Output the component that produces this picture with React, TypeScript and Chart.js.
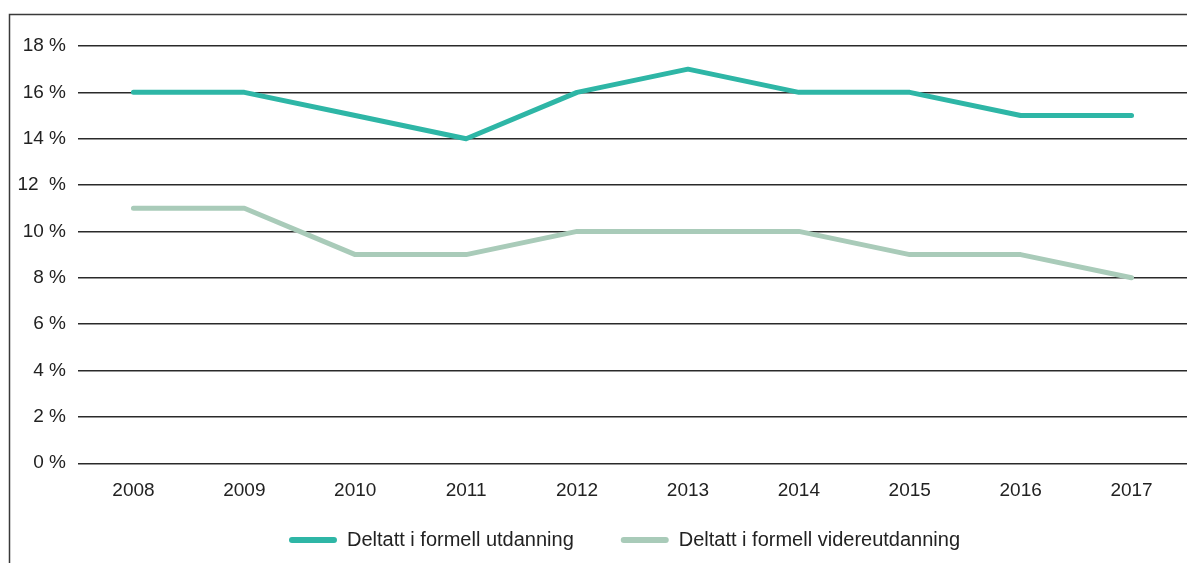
import React, { useEffect, useRef } from "react";
import { Chart, registerables } from "chart.js";

Chart.register(...registerables);

const years = ["2008", "2009", "2010", "2011", "2012", "2013", "2014", "2015", "2016", "2017"];
const formellUtdanning = [16, 16, 15, 14, 16, 17, 16, 16, 15, 15];
const formellVidereutdanning = [11, 11, 9, 9, 10, 10, 10, 9, 9, 8];
const seriesNames = ["Deltatt i formell utdanning", "Deltatt i formell videreutdanning"];
const seriesColors = ["#2eb6a6", "#a9cbb9"];
const yTickLabels: Record<number, string> = {
  0: "0 %", 2: "2 %", 4: "4 %", 6: "6 %", 8: "8 %", 10: "10 %",
  12: "12  %", 14: "14 %", 16: "16 %", 18: "18 %",
};

const framePlugin = {
  id: "frame",
  beforeDraw(chart: any) {
    const ctx = chart.ctx;
    ctx.save();
    ctx.strokeStyle = "#3a3a3a";
    ctx.lineWidth = 1.5;
    ctx.beginPath();
    ctx.moveTo(9.5, chart.height + 5);
    ctx.lineTo(9.5, 14.5);
    ctx.lineTo(chart.width + 5, 14.5);
    ctx.stroke();
    ctx.restore();
  },
};

const LEGEND_PAD = 47;
const legendShiftPlugin = {
  id: "legendShift",
  afterLayout(chart: any) {
    const lg = chart.legend;
    if (lg) {
      lg.left += 31;
      lg.right += 31;
      const h = lg.bottom - lg.top;
      lg.top = 540 - 10 - LEGEND_PAD;
      lg.bottom = lg.top + h;
    }
  },
};

export default function App() {
  const ref = useRef<HTMLCanvasElement>(null);
  useEffect(() => {
    document.body.style.margin = "0";
    const font = { family: "Liberation Sans", size: 19 };
    const chart = new Chart(ref.current!, {
      type: "line",
      data: {
        labels: years,
        datasets: [
          {
            label: seriesNames[0],
            data: formellUtdanning,
            borderColor: seriesColors[0],
            backgroundColor: seriesColors[0],
            borderWidth: 5,
            pointRadius: 0,
            borderCapStyle: "round",
            borderJoinStyle: "round",
            tension: 0,
          },
          {
            label: seriesNames[1],
            data: formellVidereutdanning,
            borderColor: seriesColors[1],
            backgroundColor: seriesColors[1],
            borderWidth: 5,
            pointRadius: 0,
            borderCapStyle: "round",
            borderJoinStyle: "round",
            tension: 0,
          },
        ],
      },
      options: {
        animation: false,
        responsive: false,
        maintainAspectRatio: false,
        layout: { padding: { top: 46, right: 0, bottom: -32, left: 0 } },
        plugins: {
          tooltip: { enabled: false },
          legend: {
            position: "bottom",
            labels: {
              font: { family: "Liberation Sans", size: 20 },
              color: "#222",
              boxWidth: 48,
              boxHeight: 6,
              padding: LEGEND_PAD,
              useBorderRadius: true,
              borderRadius: 3,
              generateLabels: (c: any) =>
                (Chart.defaults.plugins.legend.labels as any)
                  .generateLabels(c)
                  .map((l: any) => ({ ...l, lineWidth: 0, strokeStyle: "rgba(0,0,0,0)" })),
            },
          },
        },
        scales: {
          x: {
            offset: true,
            grid: { display: false, drawTicks: false },
            border: { display: false },
            ticks: {
              font,
              color: "#222",
              padding: 16,
              maxRotation: 0,
            },
          },
          y: {
            min: 0,
            max: 18,
            grid: { color: "#2a2a2a", lineWidth: 1.4, drawTicks: false },
            border: { display: false },
            afterFit(scale: any) {
              scale.width = 78;
            },
            ticks: {
              stepSize: 2,
              padding: 12,
              font,
              color: "#222",
              callback: (v: any) => yTickLabels[v as number] ?? "",
            },
          },
        },
      },
      plugins: [framePlugin, legendShiftPlugin],
    } as any);
    return () => chart.destroy();
  }, []);
  return (
    <div style={{ position: "relative", width: 1187, height: 563 }}>
      <canvas ref={ref} width={1187} height={563} style={{ display: "block" }} />
    </div>
  );
}
